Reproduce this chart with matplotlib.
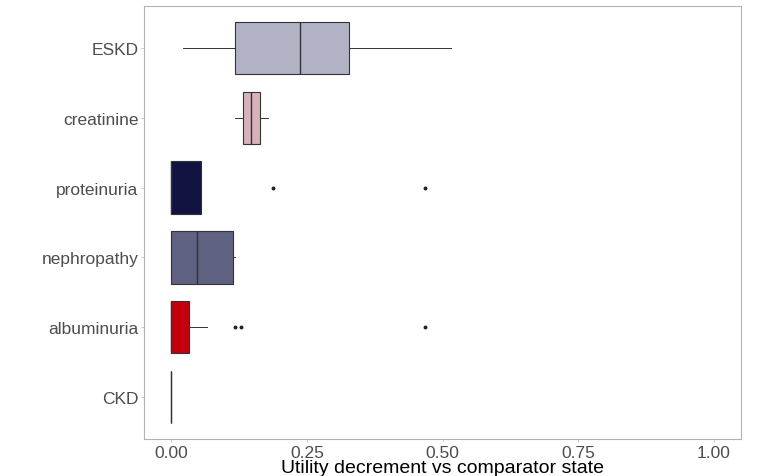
import matplotlib
matplotlib.use("Agg")
import matplotlib.pyplot as plt

plt.rcParams['font.family'] = ['Liberation Sans', 'DejaVu Sans']

# categories bottom -> top
categories = ["CKD", "albuminuria", "nephropathy", "proteinuria", "creatinine", "ESKD"]
whislo = [0.0, 0.0, 0.0, 0.0, 0.118, 0.022]
q1 = [0.0, 0.0, 0.0, 0.0, 0.133, 0.118]
med = [0.0, 0.0, 0.048, 0.0, 0.148, 0.238]
q3 = [0.0, 0.0325, 0.114, 0.0545, 0.163, 0.328]
whishi = [0.0, 0.067, 0.118, 0.0545, 0.178, 0.516]
outliers = [[], [0.117, 0.129, 0.467], [], [0.1875, 0.467], [], []]
fills = ["#b1b3c4", "#c4000f", "#5f6180", "#131342", "#d6b3bb", "#b1b3c4"]

x_ticks = [0.0, 0.25, 0.5, 0.75, 1.0]
x_ticklabels = ["0.00", "0.25", "0.50", "0.75", "1.00"]

stats = []
for i, name in enumerate(categories):
    stats.append(dict(label=name, whislo=whislo[i], q1=q1[i], med=med[i],
                      q3=q3[i], whishi=whishi[i], fliers=outliers[i]))

fig = plt.figure(figsize=(7.59, 4.77), dpi=100)
ax = fig.add_axes([144 / 759, 37 / 477, 597 / 759, 433 / 477])

edge = "#333333"
bp = ax.bxp(stats, positions=range(1, len(categories) + 1), vert=False,
            widths=0.75, patch_artist=True, showcaps=False,
            boxprops=dict(edgecolor=edge, linewidth=0.8),
            medianprops=dict(color=edge, linewidth=1.0),
            whiskerprops=dict(color=edge, linewidth=0.7),
            flierprops=dict(marker='o', markersize=1.8, markerfacecolor='#222222',
                            markeredgecolor='#222222'))
for patch, c in zip(bp['boxes'], fills):
    patch.set_facecolor(c)

ax.set_xlim(-0.05, 1.05)
ax.set_ylim(0.4, 6.6)
ax.set_xticks(x_ticks)
ax.set_xticklabels(x_ticklabels)
ax.set_yticks(range(1, len(categories) + 1))
ax.set_yticklabels(categories)
ax.tick_params(axis='both', colors="#b3b3b3", labelcolor="#4d4d4d",
               labelsize=12.5, length=2, width=0.5, pad=2)
for s in ax.spines.values():
    s.set_color("#b3b3b3")
    s.set_linewidth(0.8)

ax.set_xlabel("Utility decrement vs comparator state", fontsize=14, color="black")
ax.xaxis.label.set_va('center')
ax.xaxis.set_label_coords(0.5, -0.066)

fig.savefig("out.png", dpi=100)
